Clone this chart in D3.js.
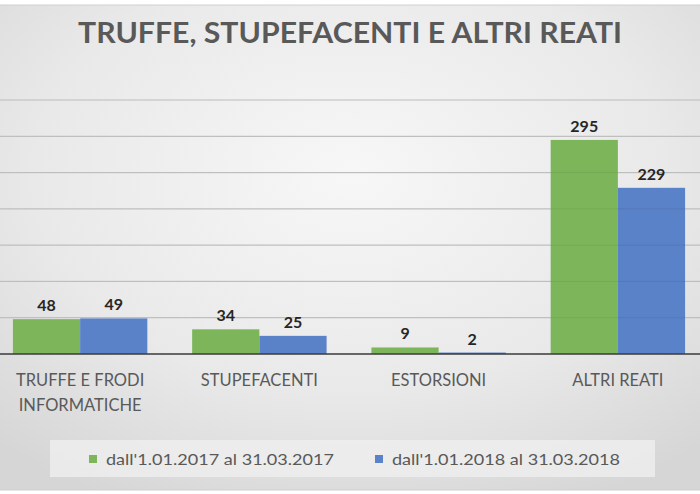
<!DOCTYPE html>
<html lang="it">
<head>
<meta charset="UTF-8">
<title>Truffe, stupefacenti e altri reati</title>
<style>
  html, body { margin: 0; padding: 0; background: #fff; }
  svg { display: block; font-family: Lato, "Open Sans", sans-serif; }
</style>
</head>
<body>
<div id="chart"></div>
<script src="https://cdn.jsdelivr.net/npm/d3@7/dist/d3.min.js"></script>
<script>
// data
const categories = [["TRUFFE E FRODI", "INFORMATICHE"], ["STUPEFACENTI"], ["ESTORSIONI"], ["ALTRI REATI"]];
const seriesNames = ["dall'1.01.2017 al 31.03.2017", "dall'1.01.2018 al 31.03.2018"];
const values2017 = [48, 34, 9, 295];
const values2018 = [49, 25, 2, 229];
const gridTicks = [50, 100, 150, 200, 250, 300, 350];

const width = 700, height = 494;
const colors = ["#7db65a", "#5a82c8"];

const svg = d3.select("#chart").append("svg")
    .attr("width", width)
    .attr("height", height);

// background with soft gradient
const defs = svg.append("defs");
const grad = defs.append("radialGradient")
    .attr("id", "bg")
    .attr("cx", "50%").attr("cy", "35%").attr("r", "75%");
grad.append("stop").attr("offset", "0%").attr("stop-color", "#f7f7f7");
grad.append("stop").attr("offset", "60%").attr("stop-color", "#e9e9e9");
grad.append("stop").attr("offset", "100%").attr("stop-color", "#d6d6d6");

svg.append("rect").attr("x", 0).attr("y", 5).attr("width", width).attr("height", 485)
    .attr("fill", "url(#bg)");
svg.append("line").attr("x1", 0).attr("x2", width).attr("y1", 5).attr("y2", 5)
    .attr("stroke", "#d0d0d0");

// scales
const keys = categories.map((c, i) => i);
const x0 = d3.scaleBand().domain(keys).range([-9.5, 707.5])
    .paddingInner(0.25).paddingOuter(0.125);
const x1 = d3.scaleBand().domain([0, 1]).range([0, x0.bandwidth()]);
const y = d3.scaleLinear().domain([0, 350]).range([354, 100]);

// gridlines
svg.append("g")
  .selectAll("line")
  .data(gridTicks)
  .join("line")
    .attr("x1", 0).attr("x2", width)
    .attr("y1", d => y(d)).attr("y2", d => y(d))
    .attr("stroke", "#cbcbcb")
    .attr("stroke-width", 1.2);

// bars
const rows = keys.map(i => ({ i, vals: [values2017[i], values2018[i]] }));
const groups = svg.append("g")
  .selectAll("g")
  .data(rows)
  .join("g")
    .attr("transform", d => `translate(${x0(d.i)},0)`);

groups.selectAll("rect")
  .data(d => d.vals.map((v, s) => ({ v, s })))
  .join("rect")
    .attr("x", d => x1(d.s))
    .attr("width", x1.bandwidth())
    .attr("y", d => y(d.v))
    .attr("height", d => y(0) - y(d.v))
    .attr("fill", d => colors[d.s]);

groups.selectAll("text")
  .data(d => d.vals.map((v, s) => ({ v, s })))
  .join("text")
    .attr("x", d => x1(d.s) + x1.bandwidth() / 2)
    .attr("y", d => y(d.v) - 8)
    .attr("text-anchor", "middle")
    .attr("font-size", 16)
    .attr("font-weight", "bold")
    .attr("fill", "#262626")
    .text(d => d.v);

// faint gridlines visible over bars
svg.append("g")
  .selectAll("line")
  .data(gridTicks)
  .join("line")
    .attr("x1", 0).attr("x2", width)
    .attr("y1", d => y(d)).attr("y2", d => y(d))
    .attr("stroke", "#000")
    .attr("stroke-opacity", 0.07);

// baseline
svg.append("line")
    .attr("x1", 0).attr("x2", width)
    .attr("y1", y(0)).attr("y2", y(0))
    .attr("stroke", "#3a3a3a")
    .attr("stroke-width", 1.5);

// category labels
svg.append("g")
  .selectAll("text")
  .data(keys)
  .join("text")
    .attr("x", i => x0(i) + x0.bandwidth() / 2)
    .attr("y", 386)
    .attr("text-anchor", "middle")
    .attr("font-size", 16.5)
    .attr("fill", "#595959")
    .selectAll("tspan")
    .data(i => categories[i])
    .join("tspan")
      .attr("x", function() { return this.parentNode.getAttribute("x"); })
      .attr("dy", (d, j) => j === 0 ? 0 : 25)
      .text(d => d);

// title
svg.append("text")
    .attr("x", 350).attr("y", 43)
    .attr("text-anchor", "middle")
    .attr("font-size", 28)
    .attr("font-weight", "bold")
    .attr("fill", "#595959")
    .attr("textLength", 544)
    .attr("lengthAdjust", "spacingAndGlyphs")
    .text("TRUFFE, STUPEFACENTI E ALTRI REATI");

// legend
svg.append("rect")
    .attr("x", 50).attr("y", 440).attr("width", 605).attr("height", 37)
    .attr("fill", "#efefef").attr("fill-opacity", 0.8);

const legendX = [89, 375];
const legend = svg.append("g")
  .selectAll("g")
  .data(seriesNames)
  .join("g")
    .attr("transform", (d, i) => `translate(${legendX[i]},0)`);
legend.append("rect")
    .attr("x", 0).attr("y", 455).attr("width", 8).attr("height", 8)
    .attr("fill", (d, i) => colors[i]);
legend.append("text")
    .attr("x", 17).attr("y", 465)
    .attr("font-size", 16)
    .attr("fill", "#595959")
    .attr("textLength", 228)
    .attr("lengthAdjust", "spacingAndGlyphs")
    .text(d => d);

// bottom edge
svg.append("line").attr("x1", 0).attr("x2", width).attr("y1", 490).attr("y2", 490)
    .attr("stroke", "#cfcfcf");
</script>
</body>
</html>
